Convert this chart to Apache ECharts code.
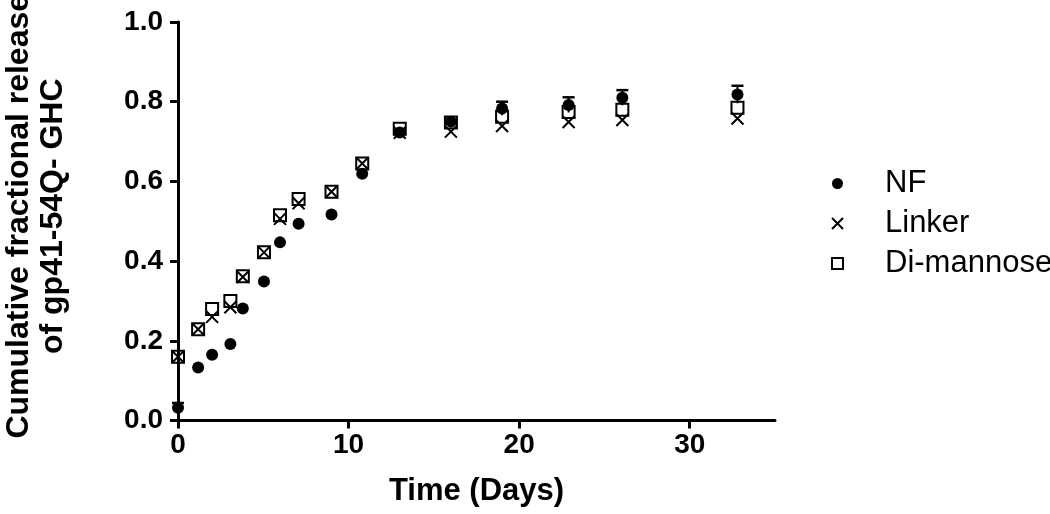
<!DOCTYPE html>
<html>
<head>
<meta charset="utf-8">
<script src="https://cdn.jsdelivr.net/npm/echarts@6/dist/echarts.min.js"></script>
<style>html,body{margin:0;padding:0;background:#fff}#c{width:1050px;height:514px}</style>
</head>
<body>
<div id="c"></div>
<script>
const days = [0, 1.18, 2, 3.07, 3.8, 5.04, 5.98, 7.07, 9.0, 10.8, 13.0, 16.0, 19.0, 22.9, 26.05, 32.8];
const nfValues = [0.032, 0.133, 0.165, 0.192, 0.281, 0.349, 0.447, 0.494, 0.517, 0.619, 0.723, 0.750, 0.783, 0.792, 0.810, 0.818];
const nfErrors = [0.012, 0, 0, 0, 0, 0, 0, 0, 0, 0, 0, 0, 0.017, 0.019, 0.019, 0.022];
const linkerValues = [0.160, 0.229, 0.260, 0.284, 0.360, 0.422, 0.506, 0.545, 0.574, 0.645, 0.722, 0.725, 0.739, 0.749, 0.754, 0.758];
const dimannoseValues = [0.160, 0.229, 0.280, 0.300, 0.362, 0.422, 0.515, 0.556, 0.574, 0.645, 0.732, 0.748, 0.762, 0.774, 0.780, 0.785];
const xTicks = [0, 10, 20, 30];
const yTicks = [0, 0.2, 0.4, 0.6, 0.8, 1.0];
const seriesNames = ['NF', 'Linker', 'Di-mannose'];
const xTitle = 'Time (Days)';
const yTitle = 'Cumulative fractional release\nof gp41-54Q- GHC';

const FONT = "'Liberation Sans', Arial, sans-serif";
const pair = (vals) => days.map((d, i) => [d, vals[i]]);
const errData = days.map((d, i) => [d, nfValues[i], nfErrors[i]]);

const chart = echarts.init(document.getElementById('c'), null, {renderer: 'canvas'});
chart.setOption({
  animation: false,
  backgroundColor: '#fff',
  grid: {left: 178, right: 275, top: 22, bottom: 93.5, containLabel: false, outerBoundsMode: 'none'},
  legend: {
    data: seriesNames,
    orient: 'vertical',
    left: 826,
    top: 163,
    itemWidth: 11,
    itemHeight: 11,
    itemGap: 9,
    textStyle: {fontFamily: FONT, fontSize: 31, color: '#000', lineHeight: 31, padding: [0, 0, 0, 37]}
  },
  xAxis: {
    type: 'value', min: 0, max: 35, interval: 10,
    name: xTitle, nameLocation: 'middle', nameGap: 55,
    nameTextStyle: {fontFamily: FONT, fontSize: 31, fontWeight: 'bold', color: '#000'},
    axisLine: {show: true, onZero: false, lineStyle: {color: '#000', width: 3}},
    axisTick: {show: true, length: 8, lineStyle: {color: '#000', width: 3}, customValues: xTicks},
    axisLabel: {fontFamily: FONT, fontSize: 28, fontWeight: 'bold', color: '#000', margin: 11, customValues: xTicks},
    splitLine: {show: false}
  },
  yAxis: {
    type: 'value', min: 0, max: 1, interval: 0.2,
    name: yTitle, nameLocation: 'middle', nameGap: 108, nameRotate: 90,
    nameTextStyle: {fontFamily: FONT, fontSize: 32, fontWeight: 'bold', color: '#000', lineHeight: 34, align: 'center', padding: [0, 0, 0, 10]},
    axisLine: {show: true, onZero: false, lineStyle: {color: '#000', width: 3}},
    axisTick: {show: true, length: 8, lineStyle: {color: '#000', width: 3}, customValues: yTicks},
    axisLabel: {fontFamily: FONT, fontSize: 28, fontWeight: 'bold', color: '#000', margin: 15,
      customValues: yTicks, formatter: (v) => v.toFixed(1)},
    splitLine: {show: false}
  },
  series: [
    {
      name: 'Di-mannose', type: 'scatter', data: pair(dimannoseValues), z: 2,
      symbol: 'rect', symbolSize: 12,
      itemStyle: {color: 'rgba(255,255,255,0)', borderColor: '#000', borderWidth: 2, opacity: 1}
    },
    {
      name: 'Linker', type: 'scatter', data: pair(linkerValues), z: 3,
      symbol: 'path://M0,0L10,10M10,0L0,10', symbolSize: 12,
      itemStyle: {color: 'rgba(255,255,255,0)', borderColor: '#000', borderWidth: 2, opacity: 1}
    },
    {
      name: 'NF-err', type: 'custom', data: errData, z: 4,
      renderItem: function (params, api) {
        const x = api.value(0), y = api.value(1), e = api.value(2);
        if (!e) return null;
        const top = api.coord([x, y + e]);
        const bot = api.coord([x, y - e]);
        return {
          type: 'group',
          children: [
            {type: 'line', shape: {x1: top[0], y1: top[1], x2: bot[0], y2: bot[1]}, style: {stroke: '#000', lineWidth: 2}},
            {type: 'line', shape: {x1: top[0] - 6, y1: top[1], x2: top[0] + 6, y2: top[1]}, style: {stroke: '#000', lineWidth: 2.5}}
          ]
        };
      }
    },
    {
      name: 'NF', type: 'scatter', data: pair(nfValues), z: 5,
      symbol: 'circle', symbolSize: 12,
      itemStyle: {color: '#000', opacity: 1}
    }
  ]
});
</script>
</body>
</html>
